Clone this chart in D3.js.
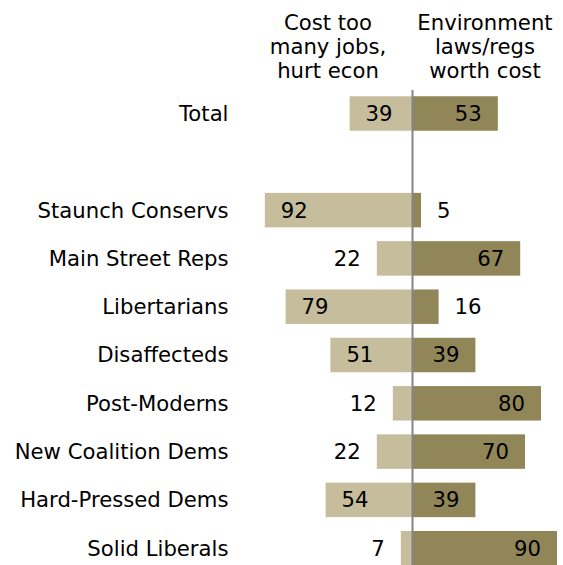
<!DOCTYPE html>
<html><head><meta charset="utf-8">
<script src="https://cdn.jsdelivr.net/npm/d3@7"></script>
<style>body{margin:0;background:#fff}svg{display:block}text{font-family:"DejaVu Sans",Verdana,sans-serif;fill:#000}</style>
</head><body>
<svg id="c" width="563" height="565"></svg>
<script>
const categories = ["Total", "", "Staunch Conservs", "Main Street Reps", "Libertarians", "Disaffecteds", "Post-Moderns", "New Coalition Dems", "Hard-Pressed Dems", "Solid Liberals"];
const costTooMany = [39, null, 92, 22, 79, 51, 12, 22, 54, 7];
const worthCost = [53, null, 5, 67, 16, 39, 80, 70, 39, 90];
const headerLeft = ["Cost too", "many jobs,", "hurt econ"];
const headerRight = ["Environment", "laws/regs", "worth cost"];

const colLeft = "#c5bd9b", colRight = "#918658";
const svg = d3.select("#c");
const cx = 412;
const x = d3.scaleLinear().domain([0, 100]).range([0, 160]);
const y = d3.scaleBand().domain(categories.map((c, i) => i)).range([89.35, 572.35]).paddingInner(0.286).paddingOuter(0.143);
const fs = 21.2;

const rows = categories.map((c, i) => ({c, i, l: costTooMany[i], r: worthCost[i]})).filter(d => d.l != null);

svg.selectAll("rect.l").data(rows).join("rect").attr("class", "l")
  .attr("x", d => cx - x(d.l)).attr("width", d => x(d.l))
  .attr("y", d => y(d.i)).attr("height", y.bandwidth()).attr("fill", colLeft);
svg.selectAll("rect.r").data(rows).join("rect").attr("class", "r")
  .attr("x", cx + 1).attr("width", d => x(d.r))
  .attr("y", d => y(d.i)).attr("height", y.bandwidth()).attr("fill", colRight);

svg.append("line").attr("x1", cx + 0.5).attr("x2", cx + 0.5).attr("y1", 90).attr("y2", 565)
  .attr("stroke", "#858585").attr("stroke-width", 2);

svg.selectAll("text.cat").data(rows).join("text").attr("class", "cat")
  .attr("x", 228.5).attr("y", d => y(d.i) + y.bandwidth() / 2).attr("dy", "0.35em")
  .attr("text-anchor", "end").attr("font-size", fs).text(d => d.c);

const pad = 16;
svg.selectAll("text.lv").data(rows).join("text").attr("class", "lv")
  .attr("x", d => x(d.l) > 40 ? cx - x(d.l) + pad : cx - x(d.l) - pad)
  .attr("text-anchor", d => x(d.l) > 40 ? "start" : "end")
  .attr("y", d => y(d.i) + y.bandwidth() / 2).attr("dy", "0.35em")
  .attr("font-size", fs).text(d => d.l);
svg.selectAll("text.rv").data(rows).join("text").attr("class", "rv")
  .attr("x", d => x(d.r) > 40 ? cx + 1 + x(d.r) - pad : cx + 1 + x(d.r) + pad)
  .attr("text-anchor", d => x(d.r) > 40 ? "end" : "start")
  .attr("y", d => y(d.i) + y.bandwidth() / 2).attr("dy", "0.35em")
  .attr("font-size", fs).text(d => d.r);

const hy = [30, 54, 78];
svg.selectAll("text.hl").data(headerLeft).join("text").attr("class", "hl")
  .attr("x", 328).attr("y", (d, i) => hy[i]).attr("text-anchor", "middle").attr("font-size", fs).text(d => d);
svg.selectAll("text.hr").data(headerRight).join("text").attr("class", "hr")
  .attr("x", 485).attr("y", (d, i) => hy[i]).attr("text-anchor", "middle").attr("font-size", fs).text(d => d);
</script>
</body></html>
